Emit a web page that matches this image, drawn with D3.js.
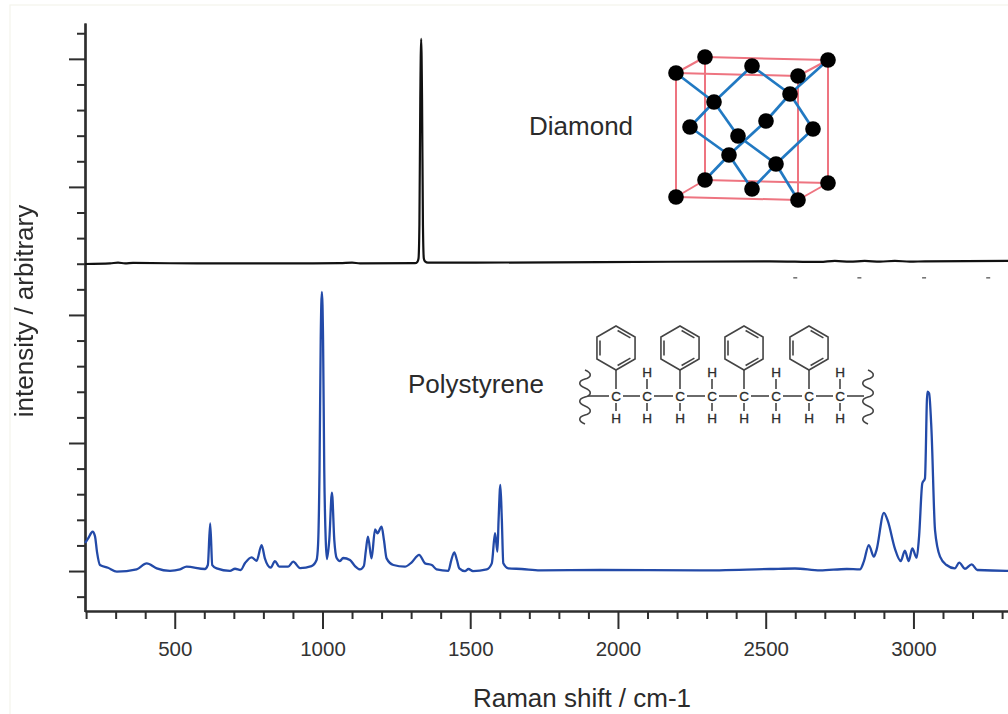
<!DOCTYPE html>
<html><head><meta charset="utf-8">
<script src="https://cdn.jsdelivr.net/npm/d3@7"></script>
<style>
html,body{margin:0;padding:0;background:#fff;overflow:hidden}
svg{display:block;filter:blur(0.6px)}
text{font-family:"Liberation Sans",Arial,sans-serif;fill:#2b2b2b}
</style></head><body>
<svg id="c" width="1008" height="714"></svg>
<script>
// ---- data ----
const polyShift = [197,207,222,230,237,247,274,304,371,405,439,484,518,540,602,612,620,627,642,687,704,723,738,760,777,794,805,825,839,854,884,901,924,963,980,985,990,994,998,1002,1006,1011,1015,1023,1032,1040,1048,1059,1070,1093,1110,1127,1140,1147,1154,1166,1178,1186,1200,1208,1217,1240,1279,1302,1327,1347,1370,1386,1426,1436,1446,1455,1463,1482,1494,1509,1556,1573,1584,1592,1596,1602,1607,1612,1629,1674,1736,1939,2277,2514,2599,2684,2774,2819,2832,2849,2866,2875,2900,2914,2937,2957,2971,2984,2996,3011,3019,3030,3039,3047,3053,3061,3073,3090,3112,3140,3155,3174,3197,3216,3315,3320];
const polyIntensity = [2.19,2.55,3.07,2.73,1.48,.47,.26,-.05,.13,.6,.21,.02,.13,.34,.16,.47,3.73,.47,.21,.02,.18,.08,.63,1.07,.8,2.03,.99,.26,.78,.34,.34,.73,.23,.39,.86,2.03,7.89,18.05,21.8,18.05,7.89,2.42,.94,2.42,6.12,2.42,1.02,.78,1.02,.86,.39,.13,.39,1.64,2.68,.99,3.26,2.95,3.46,2.42,.99,.47,.34,.68,1.27,.6,.47,.13,.02,.86,1.46,.86,.21,0,.16,0,.13,.6,2.95,1.51,4,6.72,4,.6,.21,.16,.05,.08,.05,.16,.2,.05,.16,.13,.73,2.03,1.12,1.64,4.55,3.85,1.77,.78,1.59,.78,1.77,1.04,2.68,6.85,7.24,14,13.88,11.02,3.2,1.12,.47,.21,.65,.18,.52,.08,.02,.02];
const diamondShift = [197,281,308,332,359,586,924,1059,1100,1127,1313,1321,1325,1328,1331,1334,1337,1340,1343,1347,1357,1939,2514,2684,2734,2785,2835,2887,2937,2988,3039,3320];
const diamondIntensity = [23.98,24.02,24.09,24.02,24.06,24.02,24.02,24.04,24.09,24.02,24.04,24.14,24.41,27.03,36.8,41.56,36.8,27.03,24.41,24.18,24.08,24.12,24.19,24.14,24.22,24.16,24.22,24.16,24.23,24.16,24.19,24.22];
const xMajor = [500,1000,1500,2000,2500,3000];
const xMinor = d3.range(200,3400,100).filter(v=>v%500!==0);
const yMajor = [0,10,20,30,40];
const yMinor = d3.range(-2,43,2).filter(v=>v%10!==0);
const xEdgeTicks = [2600,2817,3036,3253];
const labels = {x:"Raman shift / cm-1", y:"intensity / arbitrary", a:"Diamond", b:"Polystyrene"};

const svg = d3.select("#c");
const x = d3.scaleLinear().domain([196.3,3320]).range([85,1008]);
const y = d3.scaleLinear().domain([-3.16,42.8]).range([611.5,23]);
const AX="#2e2e2e";

svg.append("rect").attr("x",10).attr("y",5).attr("width",1010).attr("height",720)
  .attr("fill","#fff").attr("stroke","#f3f3ec").attr("stroke-width",1.2);

function ax(g){g.selectAll("path.domain").attr("stroke",AX).attr("stroke-width",2.2);g.selectAll("line").attr("stroke",AX).attr("stroke-width",2);}
const gx = svg.append("g").attr("transform","translate(0,611)");
gx.call(d3.axisBottom(x).tickValues(xMinor).tickSize(8).tickSizeOuter(0).tickFormat("")).call(ax);
const gx2 = svg.append("g").attr("transform","translate(0,611)");
gx2.call(d3.axisBottom(x).tickValues(xMajor).tickSize(18).tickSizeOuter(0).tickPadding(12).tickFormat(d3.format("d"))).call(ax);
gx2.selectAll("text").attr("font-size",20.5).style("fill","#333").attr("font-family",null);
gx2.attr("font-family",null);gx.attr("font-family",null);
const gy = svg.append("g").attr("transform","translate(85,0)");
gy.call(d3.axisLeft(y).tickValues(yMinor).tickSize(8).tickSizeOuter(0).tickFormat("")).call(ax);
const gy2 = svg.append("g").attr("transform","translate(85,0)");
gy2.call(d3.axisLeft(y).tickValues(yMajor).tickSize(16).tickSizeOuter(0).tickFormat("")).call(ax);

svg.append("g").selectAll("line").data(xEdgeTicks).join("line")
  .attr("x1",d=>x(d)-2).attr("x2",d=>x(d)+2).attr("y1",y(22.9)).attr("y2",y(22.9))
  .attr("stroke","#777").attr("stroke-width",1.6);

const line = d3.line().x(d=>x(d[0])).y(d=>y(d[1])).curve(d3.curveMonotoneX);
svg.append("path").attr("d",line(d3.zip(diamondShift,diamondIntensity)))
  .attr("fill","none").attr("stroke","#111").attr("stroke-width",2.2).attr("stroke-linejoin","round");
svg.append("path").attr("d",line(d3.zip(polyShift,polyIntensity)))
  .attr("fill","none").attr("stroke","#234aa8").attr("stroke-width",2.3).attr("stroke-linejoin","round");

svg.append("text").attr("x",582).attr("y",707).attr("text-anchor","middle").attr("font-size",26).text(labels.x);
svg.append("text").attr("transform","translate(33,311) rotate(-90)").attr("text-anchor","middle").attr("font-size",26).text(labels.y);
svg.append("text").attr("x",529).attr("y",135).attr("font-size",26).text(labels.a);
svg.append("text").attr("x",408).attr("y",392.5).attr("font-size",26).text(labels.b);

// ---- diamond lattice illustration ----
const atoms = {A:[676,73],B:[705,57],C:[828,60],D:[798,76],E:[752,66],F:[714,102],G:[790,94],H:[766,121],I:[690,127],J:[813,129],K:[738,136],L:[729,155],M:[776,164],N:[705,180],O:[828,183],P:[752,189],Q:[676,197],R:[798,200]};
const redEdges = ["AB","BC","AD","DC","AQ","BN","CO","DR","QN","NO","QR","RO"];
const blueEdges = ["AF","FE","EG","CG","GH","HL","LN","FI","FK","KM","MR","GJ","JM","MP","IL","LP"];
const cryst = svg.append("g");
const edge=(list,col,w)=>cryst.append("g").selectAll("line").data(list).join("line")
  .attr("x1",d=>atoms[d[0]][0]).attr("y1",d=>atoms[d[0]][1]).attr("x2",d=>atoms[d[1]][0]).attr("y2",d=>atoms[d[1]][1])
  .attr("stroke",col).attr("stroke-width",w);
edge(redEdges,"#ee7480",2);
edge(blueEdges,"#2179c2",2.7);
cryst.append("g").selectAll("circle").data(Object.values(atoms)).join("circle")
  .attr("cx",d=>d[0]).attr("cy",d=>d[1]).attr("r",7.8).attr("fill","#000");

// ---- polystyrene illustration ----
const chainX = [616,647,680,712,744,776,809,840];
const chainY = 396, mol = svg.append("g").attr("stroke","#444").attr("stroke-width",1.6).attr("fill","none");
const atomLabel=(tx,ty,s)=>svg.append("text").attr("x",tx).attr("y",ty+4.8).attr("text-anchor","middle").attr("font-size",13.5).style("fill","#2b2b2b").style("stroke","#2b2b2b").style("stroke-width",0.3).text(s);
const seg=(a,b,c,d)=>mol.append("line").attr("x1",a).attr("y1",b).attr("x2",c).attr("y2",d);
chainX.forEach((cx,i)=>{
  atomLabel(cx,chainY,"C");
  atomLabel(cx,418,"H");
  seg(cx,chainY+7,cx,411);
  const next = i<chainX.length-1 ? chainX[i+1] : 864;
  seg(cx+7,chainY,next-(i<chainX.length-1?7:0),chainY);
  if(i%2===1){ atomLabel(cx,372,"H"); seg(cx,379,cx,chainY-7); }
  else{
    seg(cx,370,cx,chainY-7);
    const R=22, cy=348;
    const pts=d3.range(6).map(k=>{const t=-Math.PI/2+k*Math.PI/3;return [cx+R*Math.cos(t),cy+R*Math.sin(t)];});
    mol.append("path").attr("d",d3.line()(pts)+"Z");
    [0,2,4].forEach(k=>{
      const p=pts[k],q=pts[(k+1)%6],s=0.84;
      const a=[cx+(p[0]-cx)*s,cy+(p[1]-cy)*s],b=[cx+(q[0]-cx)*s,cy+(q[1]-cy)*s];
      const u=0.1,A=[a[0]+(b[0]-a[0])*u,a[1]+(b[1]-a[1])*u],B=[b[0]+(a[0]-b[0])*u,b[1]+(a[1]-b[1])*u];
      seg(A[0],A[1],B[0],B[1]);
    });
  }
});
seg(588,chainY,609,chainY);
[585,868].forEach(sx=>{
  let d=`M${sx},370`;
  for(let k=0;k<3;k++){const y0=370+k*18;d+=` C${sx+7},${y0+3} ${sx+7},${y0+7} ${sx},${y0+9} C${sx-7},${y0+11} ${sx-7},${y0+15} ${sx},${y0+18}`;}
  mol.append("path").attr("d",d);
});
</script>
</body></html>
